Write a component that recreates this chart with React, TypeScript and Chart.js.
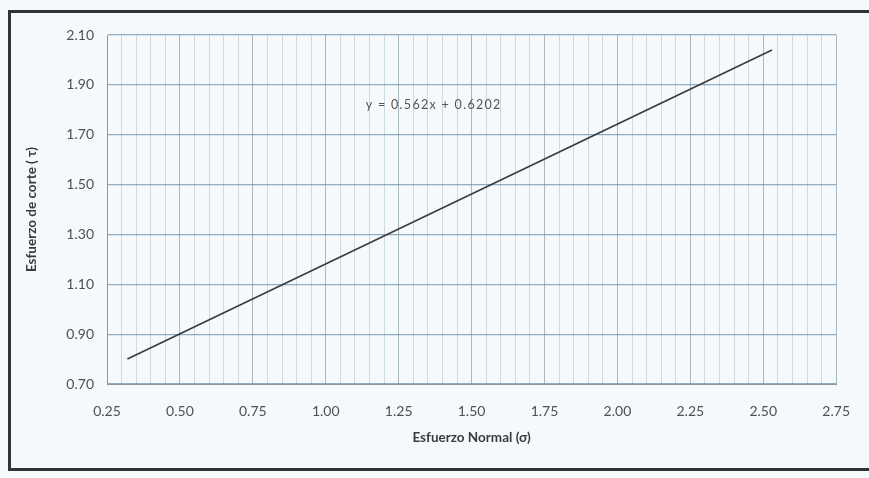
import React, { useEffect, useRef } from "react";
import { Chart, registerables } from "chart.js";

Chart.register(...registerables);

// Data
const sigmaValues = [0.32, 2.53]; // Esfuerzo Normal (σ)
const tauValues = [0.8, 2.04]; // Esfuerzo de corte (τ)
const equationText = "y = 0.562x + 0.6202";
const equationAt = [1.37, 1.818];
const xTitle = "Esfuerzo Normal (σ)";
const yTitle = "Esfuerzo de corte ( τ)";

const FONT = "Lato, 'Open Sans', sans-serif";

const isMajorX = (v: number) => Math.round(v * 100) % 25 === 0;

const equationPlugin = {
  id: "equationLabel",
  afterDatasetsDraw(chart: any) {
    const { ctx, scales } = chart;
    const px = scales.x.getPixelForValue(equationAt[0]);
    const py = scales.y.getPixelForValue(equationAt[1]);
    ctx.save();
    ctx.font = `12.5px ${FONT}`;
    try {
      (ctx as any).letterSpacing = "1.3px";
    } catch (e) {}
    ctx.fillStyle = "#555";
    ctx.textAlign = "center";
    ctx.textBaseline = "middle";
    ctx.fillText(equationText, px, py);
    ctx.restore();
  },
};

export default function App() {
  const canvasRef = useRef<HTMLCanvasElement | null>(null);

  useEffect(() => {
    if (!canvasRef.current) return;
    const chart = new Chart(canvasRef.current, {
      type: "scatter",
      data: {
        datasets: [
          {
            data: sigmaValues.map((x, i) => ({ x, y: tauValues[i] })),
            showLine: true,
            borderColor: "#3a3a3a",
            borderWidth: 1.6,
            pointRadius: 0,
            pointHoverRadius: 0,
          },
        ],
      },
      options: {
        animation: false,
        responsive: false,
        events: [],
        layout: { padding: { left: 22, right: 29, top: 35, bottom: 28 } },
        plugins: {
          legend: { display: false },
          tooltip: { enabled: false },
        },
        scales: {
          x: {
            type: "linear",
            min: 0.25,
            max: 2.75,
            afterFit: (s: any) => {
              s.height = 66;
            },
            ticks: {
              stepSize: 0.05,
              autoSkip: false,
              maxRotation: 0,
              minRotation: 0,
              padding: 19,
              color: "#505050",
              font: { family: FONT, size: 14 },
              callback: (v: any) => (isMajorX(Number(v)) ? Number(v).toFixed(2) : ""),
            },
            grid: {
              drawTicks: false,
              color: (c: any) =>
                c.tick && isMajorX(c.tick.value) ? "rgba(120,140,155,0.6)" : "rgba(150,170,185,0.4)",
              lineWidth: 1,
            },
            border: { color: "#8a96a0", width: 1 },
            title: {
              display: true,
              text: xTitle,
              color: "#3a3a3a",
              font: { family: FONT, size: 13.5, weight: "bold" },
              padding: { top: 4, bottom: 4 },
            },
          },
          y: {
            type: "linear",
            min: 0.7,
            max: 2.1,
            afterFit: (s: any) => {
              s.width = 85;
            },
            ticks: {
              stepSize: 0.2,
              padding: 13,
              color: "#505050",
              font: { family: FONT, size: 14 },
              callback: (v: any) => Number(v).toFixed(2),
            },
            grid: {
              drawTicks: false,
              color: "rgba(100,140,170,0.7)",
              lineWidth: 1.2,
            },
            border: { color: "#8a96a0", width: 1 },
            title: {
              display: true,
              text: yTitle,
              color: "#3a3a3a",
              font: { family: FONT, size: 13.5, weight: "bold" },
              padding: { top: 2, bottom: 4 },
            },
          },
        },
      },
      plugins: [equationPlugin],
    } as any);
    return () => chart.destroy();
  }, []);

  return (
    <div
      style={{
        position: "fixed",
        left: 0,
        top: 0,
        width: 869,
        height: 478,
        background: "#f6f9fc",
        overflow: "hidden",
      }}
    >
      <canvas
        ref={canvasRef}
        width={869}
        height={478}
        style={{ position: "absolute", left: 0, top: 0, width: 869, height: 478 }}
      />
      <div
        style={{
          position: "absolute",
          left: 8,
          top: 10,
          width: 900,
          height: 455,
          border: "3px solid #333",
          pointerEvents: "none",
        }}
      />
    </div>
  );
}
